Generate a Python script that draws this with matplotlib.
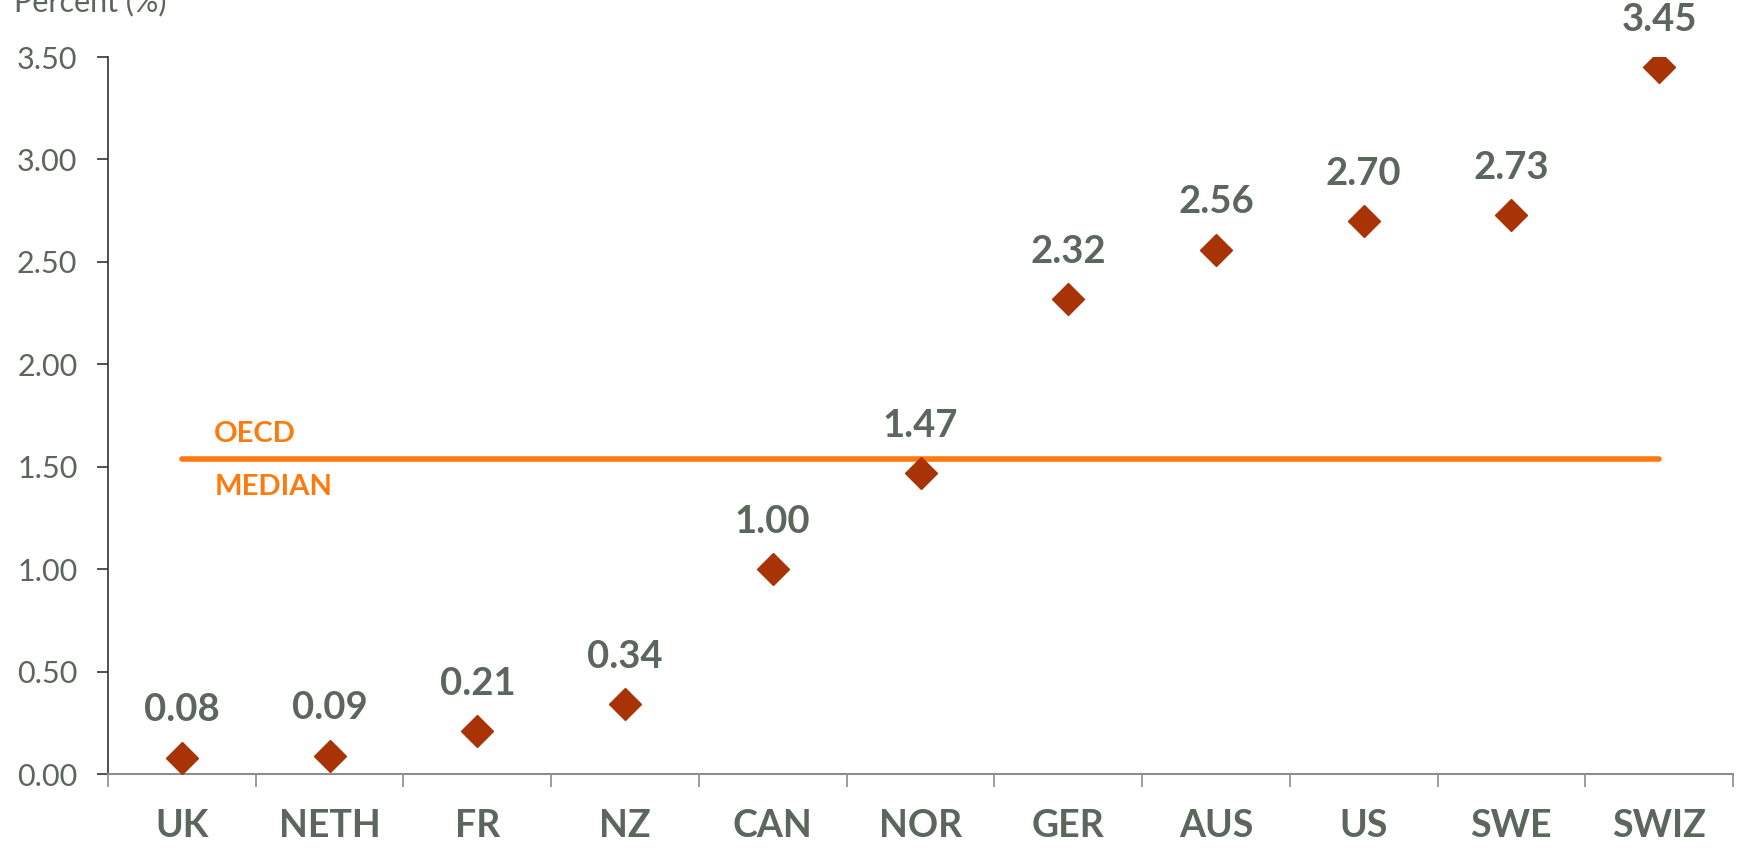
import matplotlib.pyplot as plt
import numpy as np

plt.rcParams['font.family'] = ['Lato', 'DejaVu Sans']

countries = ["UK", "NETH", "FR", "NZ", "CAN", "NOR", "GER", "AUS", "US", "SWE", "SWIZ"]
values = [0.08, 0.09, 0.21, 0.34, 1.00, 1.47, 2.32, 2.56, 2.70, 2.73, 3.45]
oecd_median = 1.54
yticks = [0.0, 0.5, 1.0, 1.5, 2.0, 2.5, 3.0, 3.5]

text_color = "#5b665c"
marker_color = "#a83306"
median_color = "#ff7a0d"

fig = plt.figure(figsize=(17.45, 8.57), dpi=100)
ax = fig.add_axes([108 / 1745, 1 - 774 / 857, (1733 - 108) / 1745, (774 - 57) / 857])

x = np.arange(len(countries))

# median line sits behind the markers
ax.plot([x[0], x[-1]], [oecd_median, oecd_median], color=median_color, lw=4,
        solid_capstyle="round", zorder=2)
ax.text(x[0] + 0.22, oecd_median + 0.12, "OECD", color=median_color, fontsize=21,
        fontweight="bold", ha="left", va="center")
ax.text(x[0] + 0.22, oecd_median - 0.14, "MEDIAN", color=median_color, fontsize=21,
        fontweight="bold", ha="left", va="center")

ax.plot(x, values, linestyle="none", marker="D", markersize=16, color=marker_color, zorder=3)

for xi, v in zip(x, values):
    ax.annotate(f"{v:.2f}", (xi, v), xytext=(0, 34), textcoords="offset points",
                ha="center", va="center", fontsize=27.5, fontweight="bold", color=text_color)

ax.set_xlim(-0.5, len(countries) - 0.5)
ax.set_ylim(0, 3.5)

ax.set_xticks(x)
ax.set_xticklabels(countries, fontsize=27, fontweight="bold", color=text_color)
ax.set_xticks(np.arange(len(countries) + 1) - 0.5, minor=True)
ax.tick_params(axis="x", which="major", length=0, pad=25)
ax.tick_params(axis="x", which="minor", length=9, width=1.2, color="#8a8f8a", direction="out")

ax.set_yticks(yticks)
ax.set_yticklabels([f"{t:.2f}" for t in yticks], fontsize=22, color=text_color)
ax.tick_params(axis="y", length=8, width=1.2, color="#333333", pad=14)

ax.spines["top"].set_visible(False)
ax.spines["right"].set_visible(False)
ax.spines["left"].set_color("#333333")
ax.spines["left"].set_linewidth(1.2)
ax.spines["bottom"].set_color("#8a8f8a")
ax.spines["bottom"].set_linewidth(1.5)

fig.text(14 / 1745, 1 - 2 / 857, "Percent (%)", fontsize=22, color=text_color,
         ha="left", va="center")

fig.savefig("out.png", dpi=100, facecolor="white")
